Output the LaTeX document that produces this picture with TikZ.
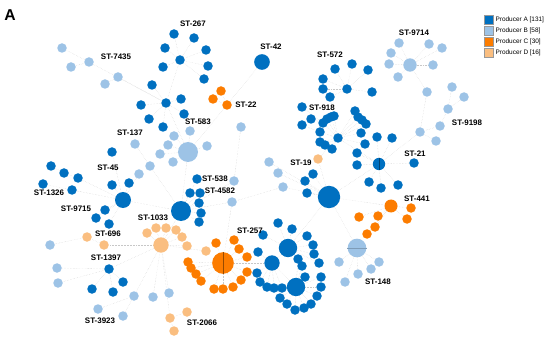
\documentclass[tikz,border=0pt]{standalone}
\usepackage{fontspec}
\setmainfont{Liberation Sans}
\usetikzlibrary{positioning, backgrounds}
\definecolor{prodA}{RGB}{0,112,192}
\definecolor{prodB}{RGB}{157,195,230}
\definecolor{prodC}{RGB}{252,124,0}
\definecolor{prodD}{RGB}{250,190,128}

\begin{document}
\begin{tikzpicture}[
  x=0.03cm, y=-0.03cm,
  dot/.style={circle, inner sep=0pt, minimum size=0.285cm},
  stA/.style={dot, fill=prodA},
  stB/.style={dot, fill=prodB},
  stC/.style={dot, fill=prodC},
  stD/.style={dot, fill=prodD},
  link/.style={draw=black!22, densely dotted, line width=0.3pt},
  lab/.style={font=\bfseries\fontsize{6.8}{7}\selectfont},
  key/.style={draw=black!40, line width=0.2pt, inner sep=0pt, minimum size=0.27cm},
  leg/.style={font=\fontsize{5.5}{6}\selectfont, inner sep=1pt}
]
\useasboundingbox (0,0) rectangle (550,339);

% producer A
\foreach \n/\x/\y in {s267/180/60, a1/174/34, a2/194/38, a3/165/48, a4/206/50, a5/163/67, a6/208/66, a7/204/79,
  h2/166/103, a8/152/85, a9/141/105, a10/181/99, a11/184/114, a12/149/119, a13/163/127,
  a14/112/152, a15/112/185, a16/129/183, a17/105/210, a18/96/218, a19/109/224, a20/72/190, a21/43/184,
  a22/78/178, a23/64/173, a24/51/166,
  a25/197/179, a26/190/193, a27/200/193, a28/199/203, a29/201/213, a30/199/222,
  s572/347/89, a31/335/69, a32/352/64, a33/368/70, a34/323/79, a35/323/89, a36/372/92, a37/330/97,
  a38/302/107, a39/311/119, a40/302/125,
  r1/334/116, r2/331/117, r3/327/119, r4/323/123, r5/320/132, r6/320/142, r7/325/145, r8/332/149,
  r9/338/138, r10/355/111, r11/358/117, r12/362/120, r13/366/124, r14/361/133, r15/365/144,
  a41/377/137, a42/392/138, a43/357/153, a44/357/165, a45/414/163, a46/369/182, a47/381/188, a48/398/185,
  a49/305/181, a50/313/174, a51/307/193,
  b11/278/223, b12/292/229, b13/263/235, b14/307/236, b15/313/245, b16/314/254, b17/319/263,
  b21/258/252, b22/257/273, b23/260/282, b24/267/287, b25/274/288, b26/282/288,
  b31/298/259, b32/302/266, b33/305/277, b34/321/277, b35/321/287, b36/317/296, b37/311/304,
  b38/304/308, b39/295/310, b40/287/304, b41/280/298,
  s1397/109/269, a52/123/282, a53/92/289, a54/113/292}
  \node[stA] (\n) at (\x,\y) {};
\foreach \n/\x/\y/\d in {s42/262/62/0.47, s45/123/200/0.48, s4582/181/211/0.6, s21/379/164/0.37,
  hubc/329/197/0.67, b1/288/248/0.55, b2/272/263/0.46, b3/296/287/0.55}
  \node[stA, minimum size=\d cm] (\n) at (\x,\y) {};

% producer B
\foreach \n/\x/\y in {c1/62/48, c2/71/67, c3/89/62, c4/105/84, c5/118/77, c6/241/127, c7/234/181,
  c8/190/131, c9/174/136, c10/168/145, c11/160/154, c12/173/162, c13/207/146, c14/135/144,
  c15/150/166, c16/139/174, c17/269/162, c18/278/173, c19/283/187, c20/232/202,
  c21/399/43, c22/391/53, c23/389/64, c24/398/77, c25/429/44, c26/442/48, c27/433/65, c28/427/92,
  s9198/420/132, c29/436/141, c30/440/126, c31/448/109, c32/452/87, c33/464/97,
  c34/339/262, c35/358/274, c36/371/269, c37/379/262, c38/345/282,
  c39/50/245, c40/57/268, c41/58/283, c42/134/296, c43/153/297, c44/169/293, c45/98/309, c46/123/316}
  \node[stB] (\n) at (\x,\y) {};
\foreach \n/\x/\y/\d in {s583/188/152/0.6, s9714/410/65/0.4, s148/357/248/0.56}
  \node[stB, minimum size=\d cm] (\n) at (\x,\y) {};

% producer C
\foreach \n/\x/\y in {d1/221/91, d2/213/99, s22/227/105,
  o1/216/243, o2/234/240, o3/239/249, o4/247/257, o5/247/272, o6/241/280, o7/233/287,
  o8/223/289, o9/214/289, o10/201/281, o11/196/274, o12/191/268, o13/188/262,
  o14/411/208, o15/407/219, o16/378/216, o17/359/217, o18/375/227, o19/367/234}
  \node[stC] (\n) at (\x,\y) {};
\node[stC, minimum size=0.65cm] (s257) at (223,263) {};
\node[stC, minimum size=0.39cm] (s441) at (391,206) {};

% producer D
\foreach \n/\x/\y in {e1/318/159, e2/147/233, e3/156/228, e4/166/228, e5/176/230, e6/182/237,
  e7/187/246, e8/206/251, e9/87/237, e10/104/245, e11/170/318, e12/187/312, e13/174/331}
  \node[stD] (\n) at (\x,\y) {};
\node[stD, minimum size=0.46cm] (s1033) at (161,245) {};

% pie splits
\draw[prodC!60!black, line width=0.3pt] (s257.north) -- (s257.south);
\draw[prodA!60!black, line width=0.3pt] (s21.north) -- (s21.south);
\draw[prodB!80!black, line width=0.3pt] (s148.west) -- (s148.east);

% links
\begin{scope}[on background layer]
\foreach \a/\b in {s267/a1, s267/a2, s267/a3, s267/a4, s267/a5, s267/a6, s267/a7, s267/h2,
  h2/a8, h2/a9, h2/a10, h2/a11, h2/a12, h2/a13, c3/c1, c3/c2, c3/h2, c5/c4, c5/h2, h2/s583,
  s42/s22, d1/s22, d2/s22, s22/s583,
  s583/c8, s583/c9, s583/c10, s583/c11, s583/c12, s583/c13, s583/s4582,
  c6/c7, c7/s4582, c20/s4582, c20/c19, c19/hubc, c18/hubc, c17/hubc, c20/s257,
  c14/c15, c15/s4582, c16/s45, a14/s45, s45/a15, s45/a16, s45/a17, s45/a18, s45/a19,
  s45/a20, a20/a21, s45/a22, a22/a23, a23/a24, s45/s4582,
  s4582/a25, s4582/a26, s4582/a27, s4582/a28, s4582/a29, s4582/a30, s4582/s1033,
  s1033/e2, s1033/e3, s1033/e4, s1033/e5, s1033/e6, s1033/e7, s1033/e8, s1033/e10, e10/e9, e9/c39,
  s1033/s1397, s1397/a52, s1397/a53, s1397/a54, s1397/c40, s1397/c41,
  s1033/c42, s1033/c43, s1033/c44, c42/c45, c42/c46, s1033/e11, e11/e12, e11/e13,
  s257/o1, s257/o2, s257/o3, s257/o4, s257/o5, s257/o6, s257/o7, s257/o8, s257/o9,
  s257/o10, s257/o11, s257/o12, s257/o13, s257/b2,
  b2/b21, b2/b22, b2/b23, b2/b24, b2/b25, b2/b26, b2/b1, b2/b3,
  b1/b11, b1/b12, b1/b13, b1/b14, b1/b15, b1/b16, b1/b17, b1/hubc,
  b3/b31, b3/b32, b3/b33, b3/b34, b3/b35, b3/b36, b3/b37, b3/b38, b3/b39, b3/b40, b3/b41,
  hubc/a49, hubc/a50, hubc/a51, hubc/e1, hubc/s441,
  s441/o14, s441/o15, s441/o16, s441/o17, s441/o18, s441/o19,
  hubc/s148, s148/c34, s148/c35, s148/c36, s148/c37, s148/c38,
  e1/r9, r9/r1, r9/r2, r9/r3, r9/r4, r9/r5, r9/r6, r9/r7, r9/r8,
  r9/r10, r9/r11, r9/r12, r9/r13, r9/r14, r9/r15, a38/r4, a39/r4, a40/r5,
  s572/a31, s572/a32, s572/a33, s572/a34, s572/a35, s572/a36, s572/a37, a37/r1, r9/s21,
  s21/a41, s21/a42, s21/a43, s21/a44, s21/a45, s21/a46, s21/a47, s21/a48, s21/hubc,
  s21/s9198, s9198/c29, s9198/c30, c30/c31, c31/c32, c31/c33, s9198/c28, c28/s9714,
  s9714/c21, s9714/c22, s9714/c23, s9714/c24, s9714/c25, s9714/c26, s9714/c27}
  \draw[link] (\a) -- (\b);
\end{scope}

% sequence type labels
\foreach \t/\x/\y in {ST-267/193/24, ST-42/271/47, ST-7435/116/57, ST-22/246/105, ST-583/198/122,
  ST-137/130/133, ST-45/108/168, ST-9714/414/33, ST-572/330/55, ST-918/322/108, ST-9198/467/123,
  ST-19/301/163, ST-21/415/154, ST-1326/49/193, ST-538/215/179, ST-4582/220/191, ST-9715/76/209,
  ST-1033/153/218, ST-696/108/234, ST-257/250/231, ST-441/417/199, ST-1397/106/258,
  ST-148/378/282, ST-3923/100/321, ST-2066/202/323}
  \node[lab] (l\t) at (\x,\y) {\t};

\node[font=\bfseries\fontsize{13.4}{14}\selectfont] (panel) at (10,15) {A};

% legend
\node[key, fill=prodA] (kA) at (489,20) {};
\node[key, fill=prodB] (kB) at (489,31) {};
\node[key, fill=prodC] (kC) at (489,42) {};
\node[key, fill=prodD] (kD) at (489,53) {};
\node[leg, right=0.5pt of kA] {Producer A [131]};
\node[leg, right=0.5pt of kB] {Producer B [58]};
\node[leg, right=0.5pt of kC] {Producer C [30]};
\node[leg, right=0.5pt of kD] {Producer D [16]};
\end{tikzpicture}
\end{document}
